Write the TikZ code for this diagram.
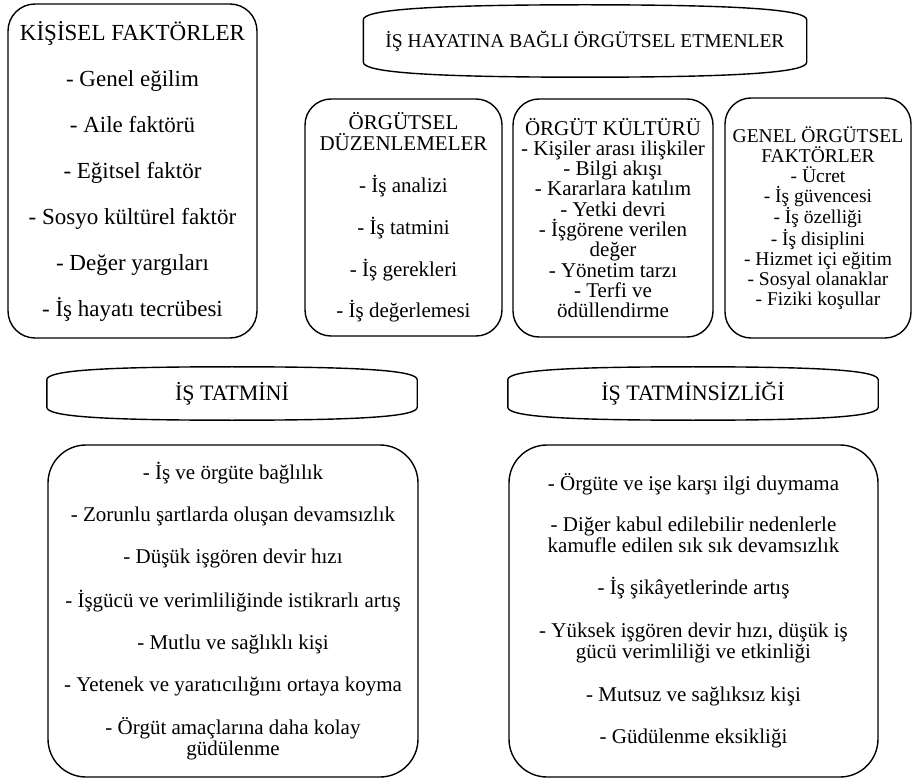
\documentclass[tikz,border=0pt]{standalone}
\usepackage{fontspec}
\setmainfont{Liberation Serif}

% outline of the wide title boxes (bulging top and bottom)
\newcommand{\hdrframe}[2]{%
  \draw[boxline] ([yshift=-6pt]#1.north west) -- ([yshift=6pt]#1.south west)
    .. controls ([yshift=-3pt]#1.south west) and ([xshift=50pt,yshift=-#2]#1.south west) .. ([yshift=-#2]#1.south)
    .. controls ([xshift=-50pt,yshift=-#2]#1.south east) and ([yshift=-3pt]#1.south east) .. ([yshift=6pt]#1.south east)
    -- ([yshift=-6pt]#1.north east)
    .. controls ([yshift=3pt]#1.north east) and ([xshift=-50pt,yshift=#2]#1.north east) .. ([yshift=#2]#1.north)
    .. controls ([xshift=50pt,yshift=#2]#1.north west) and ([yshift=3pt]#1.north west) .. ([yshift=-6pt]#1.north west) -- cycle;}

\begin{document}
\begin{tikzpicture}[x=1pt, y=-1pt,
    boxline/.style={draw, line width=1.4pt, line join=round},
    box/.style={boxline, rounded corners=26pt, align=center, inner sep=0pt},
    bigbox/.style={box, rounded corners=38pt, minimum width=370pt, minimum height=332pt, font={\fontsize{21}{21}\selectfont}},
    hdr/.style={align=center, inner sep=0pt, minimum height=39pt, minimum width=370pt, font={\fontsize{22}{22}\selectfont}}
]
\useasboundingbox (0,0) rectangle (914,778);

% Nodes
\node[box, rounded corners=27pt, minimum width=249pt, minimum height=334pt,
      font={\fontsize{23}{46}\selectfont}] (k0) at (132.5,171)
  {KİŞİSEL FAKTÖRLER\\- Genel eğilim\\- Aile faktörü\\- Eğitsel faktör\\- Sosyo kültürel faktör\\- Değer yargıları\\- İş hayatı tecrübesi};

\node[hdr, minimum width=443pt, minimum height=54pt, font={\fontsize{19.5}{20}\selectfont}] (b0) at (585,41)
  {İŞ HAYATINA BAĞLI ÖRGÜTSEL ETMENLER};

\node[box, minimum width=197pt, minimum height=237pt, font={\fontsize{21}{21}\selectfont}] (b1) at (403.5,217.5)
  {ÖRGÜTSEL\\DÜZENLEMELER\\[21pt]- İş analizi\\[19pt]- İş tatmini\\[19pt]- İş gerekleri\\[19pt]- İş değerlemesi};
\node[box, minimum width=200pt, minimum height=238pt, font={\fontsize{21}{20.3}\selectfont}] (b2) at (613,218)
  {ÖRGÜT KÜLTÜRÜ\\- Kişiler arası ilişkiler\\- Bilgi akışı\\- Kararlara katılım\\- Yetki devri\\- İşgörene verilen\\değer\\- Yönetim tarzı\\- Terfi ve\\ödüllendirme};
\node[box, minimum width=186pt, minimum height=240pt, font={\fontsize{19.5}{20}\selectfont}] (b3) at (818,218)
  {GENEL ÖRGÜTSEL\\FAKTÖRLER\\- Ücret\\- İş güvencesi\\- İş özelliği\\- İş disiplini\\- Hizmet içi eğitim\\- Sosyal olanaklar\\- Fiziki koşullar};

\node[hdr] (t0) at (232,393.5) {İŞ TATMİNİ};
\node[bigbox] (t1) at (233,611)
  {- İş ve örgüte bağlılık\\[21pt]- Zorunlu şartlarda oluşan devamsızlık\\[21pt]- Düşük işgören devir hızı\\[21pt]- İşgücü ve verimliliğinde istikrarlı artış\\[21pt]- Mutlu ve sağlıklı kişi\\[21pt]- Yetenek ve yaratıcılığını ortaya koyma\\[21pt]- Örgüt amaçlarına daha kolay\\güdülenme};

\node[hdr] (s0) at (693,393.5) {İŞ TATMİNSİZLİĞİ};
\node[bigbox, minimum width=369pt] (s1) at (693.5,611)
  {- Örgüte ve işe karşı ilgi duymama\\[20pt]- Diğer kabul edilebilir nedenlerle\\kamufle edilen sık sık devamsızlık\\[21pt]- İş şikâyetlerinde artış\\[22pt]- Yüksek işgören devir hızı, düşük iş\\gücü verimliliği ve etkinliği\\[22pt]- Mutsuz ve sağlıksız kişi\\[21pt]- Güdülenme eksikliği};

% Title outlines
\hdrframe{b0}{9pt}
\hdrframe{t0}{7pt}
\hdrframe{s0}{7pt}

\end{tikzpicture}
\end{document}
